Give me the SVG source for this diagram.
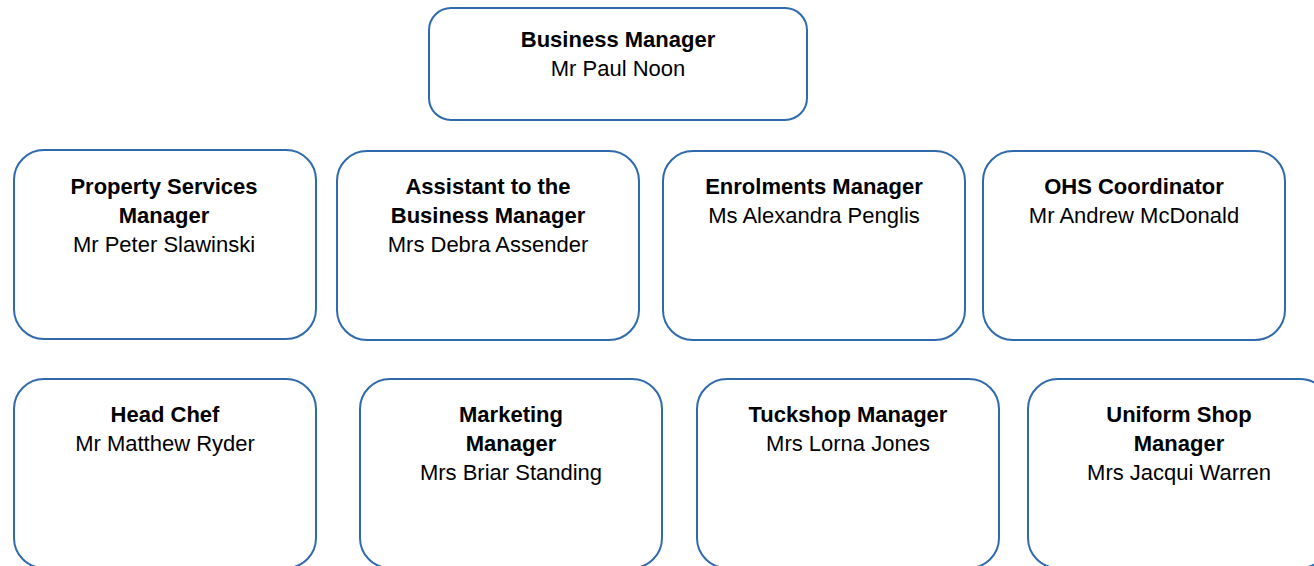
<svg xmlns="http://www.w3.org/2000/svg" width="1314" height="566" viewBox="0 0 1314 566">
<style>
.box{fill:#ffffff;stroke:#2f6aac;stroke-width:2}
.t{font-family:"Liberation Sans",Arial,sans-serif;font-size:22px;fill:#000;text-anchor:middle}
.b{font-weight:bold}
</style>
<rect width="1314" height="566" fill="#ffffff"/>
<g id="connectors"></g>
<g id="business-manager">
<rect class="box" x="429" y="8" width="378" height="112" rx="22"/>
<text class="t b" x="618" y="47">Business Manager</text>
<text class="t" x="618" y="76">Mr Paul Noon</text>
</g>
<g id="property-services">
<rect class="box" x="14" y="150" width="302" height="189" rx="30"/>
<text class="t b" x="164" y="194">Property Services</text>
<text class="t b" x="164" y="223">Manager</text>
<text class="t" x="164" y="252">Mr Peter Slawinski</text>
</g>
<g id="assistant">
<rect class="box" x="337" y="151" width="302" height="189" rx="30"/>
<text class="t b" x="488" y="194">Assistant to the</text>
<text class="t b" x="488" y="223">Business Manager</text>
<text class="t" x="488" y="252">Mrs Debra Assender</text>
</g>
<g id="enrolments">
<rect class="box" x="663" y="151" width="302" height="189" rx="30"/>
<text class="t b" x="814" y="194">Enrolments Manager</text>
<text class="t" x="814" y="223">Ms Alexandra Penglis</text>
</g>
<g id="ohs">
<rect class="box" x="983" y="151" width="302" height="189" rx="30"/>
<text class="t b" x="1134" y="194">OHS Coordinator</text>
<text class="t" x="1134" y="223">Mr Andrew McDonald</text>
</g>
<g id="head-chef">
<rect class="box" x="14" y="379" width="302" height="189" rx="30"/>
<text class="t b" x="165" y="422">Head Chef</text>
<text class="t" x="165" y="451">Mr Matthew Ryder</text>
</g>
<g id="marketing">
<rect class="box" x="360" y="379" width="302" height="189" rx="30"/>
<text class="t b" x="511" y="422">Marketing</text>
<text class="t b" x="511" y="451">Manager</text>
<text class="t" x="511" y="480">Mrs Briar Standing</text>
</g>
<g id="tuckshop">
<rect class="box" x="697" y="379" width="302" height="189" rx="30"/>
<text class="t b" x="848" y="422">Tuckshop Manager</text>
<text class="t" x="848" y="451">Mrs Lorna Jones</text>
</g>
<g id="uniform-shop">
<rect class="box" x="1028" y="379" width="302" height="189" rx="30"/>
<text class="t b" x="1179" y="422">Uniform Shop</text>
<text class="t b" x="1179" y="451">Manager</text>
<text class="t" x="1179" y="480">Mrs Jacqui Warren</text>
</g>
</svg>
